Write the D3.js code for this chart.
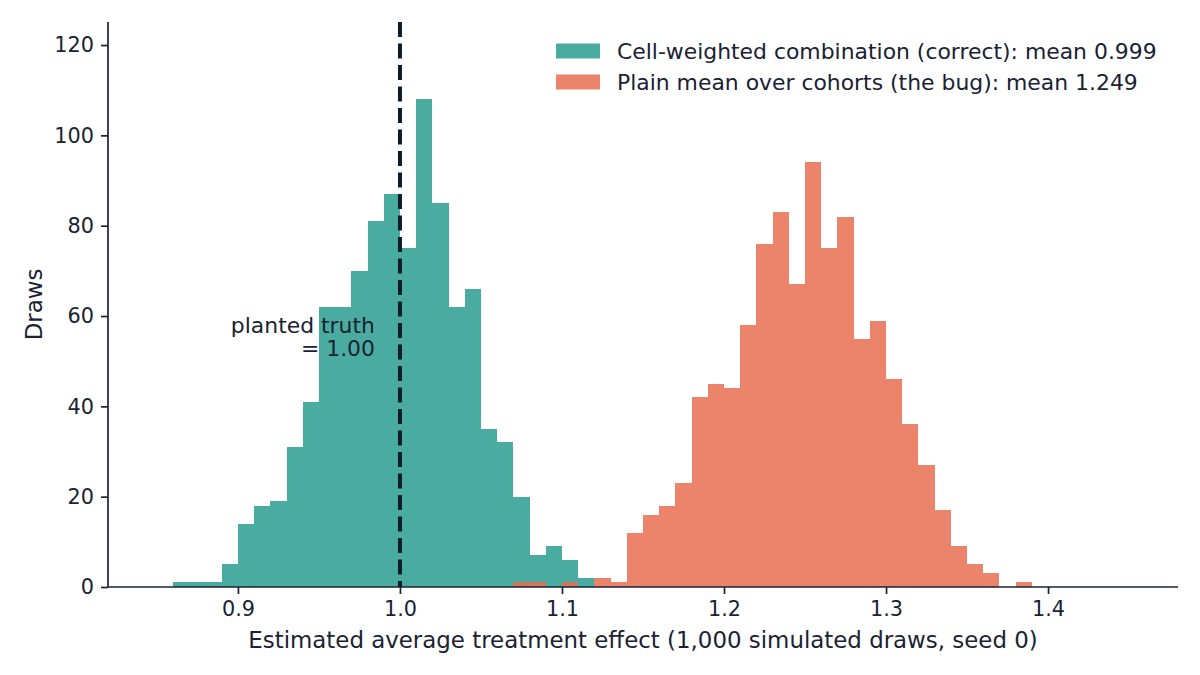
<!DOCTYPE html>
<html>
<head>
<meta charset="utf-8">
<script src="https://cdn.jsdelivr.net/npm/d3@7"></script>
<style>
  body { margin: 0; background: #fff; }
  svg { font-family: "DejaVu Sans", sans-serif; }
</style>
</head>
<body>
<div id="chart"></div>
<script>
// Histogram of 1,000 simulated ATE estimates — correct vs buggy combination
const binLefts = [
  0.86, 0.87, 0.88, 0.89, 0.90, 0.91, 0.92, 0.93, 0.94, 0.95,
  0.96, 0.97, 0.98, 0.99, 1.00, 1.01, 1.02, 1.03, 1.04, 1.05,
  1.06, 1.07, 1.08, 1.09, 1.10, 1.11, 1.12, 1.13, 1.14, 1.15,
  1.16, 1.17, 1.18, 1.19, 1.20, 1.21, 1.22, 1.23, 1.24, 1.25,
  1.26, 1.27, 1.28, 1.29, 1.30, 1.31, 1.32, 1.33, 1.34, 1.35,
  1.36, 1.37, 1.38
];
const binWidth = 0.01;

const correctCounts = [
  1, 1, 1, 5, 14, 18, 19, 31, 41, 62,
  62, 70, 81, 87, 75, 108, 85, 62, 66, 35,
  32, 20, 7, 9, 6, 2, 0, 0, 0, 0,
  0, 0, 0, 0, 0, 0, 0, 0, 0, 0,
  0, 0, 0, 0, 0, 0, 0, 0, 0, 0,
  0, 0, 0
];
const buggyCounts = [
  0, 0, 0, 0, 0, 0, 0, 0, 0, 0,
  0, 0, 0, 0, 0, 0, 0, 0, 0, 0,
  0, 1, 1, 0, 1, 0, 2, 1, 12, 16,
  18, 23, 42, 45, 44, 58, 76, 83, 67, 94,
  75, 82, 55, 59, 46, 36, 27, 17, 9, 5,
  3, 0, 1
];

const seriesNames = [
  "Cell-weighted combination (correct): mean 0.999",
  "Plain mean over cohorts (the bug): mean 1.249"
];
const seriesColors = ["#2a9d8f", "#e76f51"];

const xTicks = [0.9, 1.0, 1.1, 1.2, 1.3, 1.4];
const yTicks = [0, 20, 40, 60, 80, 100, 120];
const truthValue = 1.0;

const W = 1200, H = 675;
const margin = { top: 22, right: 22, bottom: 88, left: 108 };
const width = W - margin.left - margin.right;
const height = H - margin.top - margin.bottom;
const ink = "#1a2233";

const svg = d3.select("#chart").append("svg")
  .attr("width", W).attr("height", H);
const g = svg.append("g")
  .attr("transform", `translate(${margin.left},${margin.top})`);

const x = d3.scaleLinear().domain([0.8198, 1.4802]).range([0, width]);
const y = d3.scaleLinear().domain([0, 125.1]).range([height, 0]);

// bars
[correctCounts, buggyCounts].forEach((counts, si) => {
  g.append("g")
    .selectAll("rect")
    .data(binLefts.map((b, i) => ({ left: b, count: counts[i] })).filter(d => d.count > 0))
    .join("rect")
    .attr("x", d => x(d.left))
    .attr("width", d => x(d.left + binWidth) - x(d.left))
    .attr("y", d => y(d.count))
    .attr("height", d => y(0) - y(d.count))
    .attr("fill", seriesColors[si])
    .attr("fill-opacity", 0.85)
    .attr("shape-rendering", "crispEdges");
});

// planted truth line
g.append("line")
  .attr("x1", x(truthValue)).attr("x2", x(truthValue))
  .attr("y1", 0).attr("y2", height)
  .attr("stroke", "#0d1b2a")
  .attr("stroke-width", 4)
  .attr("stroke-dasharray", "15,6.5");

g.append("text")
  .attr("y", y(60) + 17)
  .attr("text-anchor", "end")
  .attr("fill", ink)
  .style("font-size", "21.9px")
  .selectAll("tspan")
  .data(["planted truth", "= 1.00"])
  .join("tspan")
  .attr("x", x(truthValue) - 25)
  .attr("dy", (d, i) => i === 0 ? 0 : 23)
  .text(d => d);

// axes
const xAxis = g.append("g")
  .attr("transform", `translate(0,${height})`)
  .call(d3.axisBottom(x).tickValues(xTicks).tickFormat(d3.format(".1f")).tickSize(7).tickPadding(7));
const yAxis = g.append("g")
  .call(d3.axisLeft(y).tickValues(yTicks).tickSize(7).tickPadding(7));

[xAxis, yAxis].forEach(a => {
  a.select(".domain").attr("stroke", ink).attr("stroke-width", 1.7);
  a.selectAll(".tick line").attr("stroke", ink).attr("stroke-width", 1.7);
  a.selectAll(".tick text").attr("fill", ink).style("font-size", "20.8px").style("font-family", "DejaVu Sans");
});
yAxis.select(".domain").attr("d", `M0,0V${height}`);
xAxis.select(".domain").attr("d", `M0,0H${width}`);

g.append("text")
  .attr("x", width / 2)
  .attr("y", height + 61)
  .attr("text-anchor", "middle")
  .attr("fill", ink)
  .style("font-size", "22.9px")
  .text("Estimated average treatment effect (1,000 simulated draws, seed 0)");

g.append("text")
  .attr("transform", `translate(${-66},${height / 2}) rotate(-90)`)
  .attr("text-anchor", "middle")
  .attr("fill", ink)
  .style("font-size", "22.9px")
  .text("Draws");

// legend
const legend = g.append("g")
  .attr("transform", `translate(${556 - margin.left},${51 - margin.top})`);
seriesNames.forEach((name, i) => {
  const row = legend.append("g").attr("transform", `translate(0,${i * 31})`);
  row.append("rect")
    .attr("x", 0).attr("y", -7.5)
    .attr("width", 44).attr("height", 15)
    .attr("fill", seriesColors[i])
    .attr("fill-opacity", 0.85);
  row.append("text")
    .attr("x", 61).attr("y", 0)
    .attr("dy", "0.36em")
    .attr("fill", ink)
    .style("font-size", "21.9px")
    .text(name);
});
</script>
</body>
</html>
